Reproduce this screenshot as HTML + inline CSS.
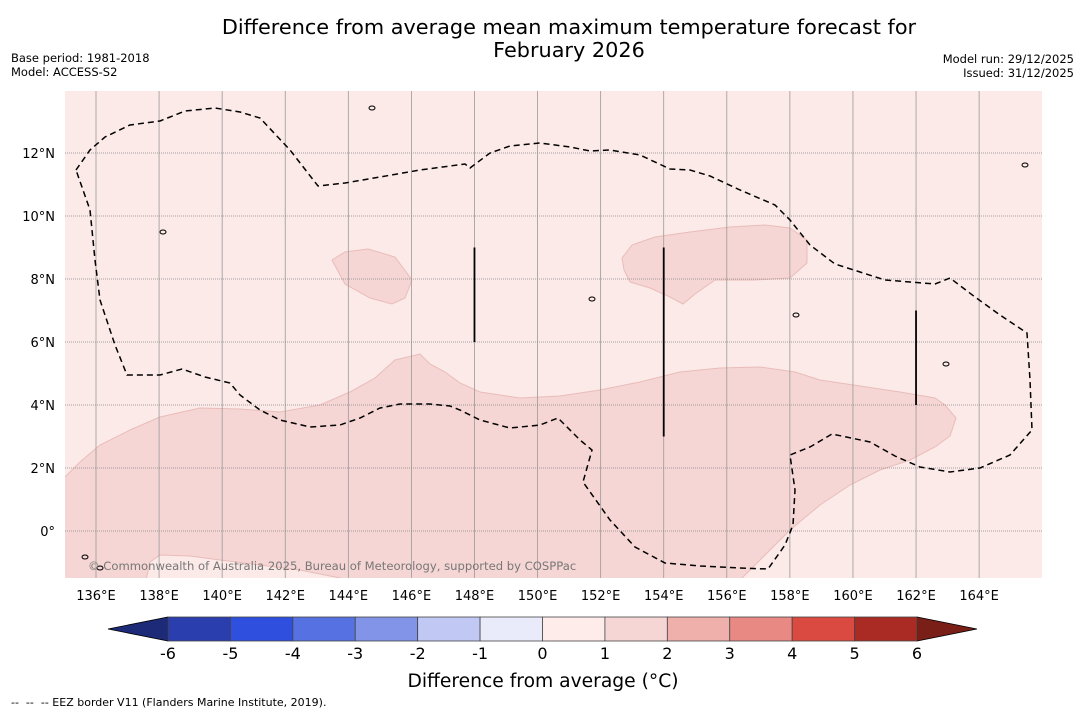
<!DOCTYPE html>
<html><head><meta charset="utf-8"><style>
body{margin:0;background:#fff;width:1085px;height:713px;overflow:hidden;font-family:"Liberation Sans","DejaVu Sans",sans-serif}
svg{display:block}
</style></head><body>
<svg id="s" width="1085" height="713" xmlns="http://www.w3.org/2000/svg" font-family="DejaVu Sans, Liberation Sans, sans-serif">
<text x="569" y="34" font-size="20.8" text-anchor="middle">Difference from average mean maximum temperature forecast for</text>
<text x="569" y="57" font-size="20.8" text-anchor="middle">February 2026</text>
<text x="11" y="62" font-size="11.5">Base period: 1981-2018</text>
<text x="11" y="76" font-size="11.5">Model: ACCESS-S2</text>
<text x="1074" y="63" font-size="11.5" text-anchor="end">Model run: 29/12/2025</text>
<text x="1074" y="77" font-size="11.5" text-anchor="end">Issued: 31/12/2025</text>
<defs><clipPath id="cp"><rect x="65" y="91" width="977" height="487"/></clipPath></defs>
<rect x="65" y="91" width="977" height="487" fill="#fbeae8"/>
<g id="map" clip-path="url(#cp)"></g>
<g id="grid"></g>
<g id="over" clip-path="url(#cp)"></g>
<g id="axes"></g>
<text x="88" y="570" font-size="11.6" fill="#777">© Commonwealth of Australia 2025, Bureau of Meteorology, supported by COSPPac</text>
<g id="cbar"></g>
<text x="543" y="687" font-size="18.7" text-anchor="middle">Difference from average (°C)</text>
<text x="11" y="706" font-size="11" xml:space="preserve">--  --  -- EEZ border V11 (Flanders Marine Institute, 2019).</text>
</svg>
<script>
const NS="http://www.w3.org/2000/svg";
const lonTicks=[136,138,140,142,144,146,148,150,152,154,156,158,160,162,164];
const latTicks=[0,2,4,6,8,10,12];
const cbTicks=[-6,-5,-4,-3,-2,-1,0,1,2,3,4,5,6];
const cbColors=["#2a3fad","#2f4fdf","#5672e2","#8294e8","#c1c8f3","#e9ebfa","#fdece9","#f5d6d4","#efb0ab","#e88a83","#db4a40","#aa2a24"];
const eezX=[76,90,105,130,160,185,215,240,260,290,318,345,380,420,465,470,490,510,540,570,590,610,640,670,690,710,740,775,790,810,835,860,885,910,935,950,975,1000,1027,1030,1032,1010,980,950,920,895,870,832,810,790,795,793,785,768,740,700,665,635,610,583,592,580,565,558,540,510,480,460,450,430,400,380,360,340,310,280,260,240,230,205,182,160,127,115,100,95,90,76];
const eezY=[170,150,137,125,121,111,108,112,118,150,186,183,177,170,164,168,153,146,143,147,151,150,155,169,170,176,190,205,220,245,264,272,280,282,284,278,297,315,333,380,430,455,468,472,467,456,442,434,447,455,490,525,545,569,568,566,563,547,520,482,450,440,425,418,425,428,420,410,406,404,404,408,418,425,427,420,410,395,383,377,369,375,375,345,300,260,210,170];
const southX=[60,80,100,130,160,200,240,280,320,350,375,395,420,430,445,460,480,520,560,600,640,680,720,760,795,820,860,900,935,945,956,950,935,910,880,850,820,790,770,755,740,60];
const southY=[482,462,445,430,417,408,409,412,405,392,378,360,354,364,372,383,392,398,396,390,382,372,368,367,372,380,386,392,398,405,418,436,447,460,470,485,505,530,550,565,580,580];
const lightX=[146,150,160,190,220,260,300,340,345,146];
const lightY=[580,562,555,556,560,565,570,578,580,580];
const b1X=[332,345,368,395,412,405,392,370,345];
const b1Y=[260,252,249,257,280,298,304,298,284];
const b2X=[622,632,655,690,730,765,790,807,807,790,755,715,695,683,668,650,630,624];
const b2Y=[258,245,237,232,227,225,228,240,263,278,280,280,294,304,296,288,282,270];
const barsLon=[148,154,162];
const barsTop=[9.0,9.0,7.0];
const barsBot=[6.0,3.0,4.0];
const xOf=lon=>96+(lon-136)*31.54;
const yOf=lat=>531-31.5*lat;
const lonOf=px=>136+(px-96)/31.54, latOf=py=>(531-py)/31.5;
function pts(X,Y){return X.map((x,i)=>xOf(lonOf(x)).toFixed(1)+","+yOf(latOf(Y[i])).toFixed(1)).join(" ");}
const map=document.getElementById('map');
const over=document.getElementById('over');
function add(parent,tag,attrs){const e=document.createElementNS(NS,tag);for(const k in attrs)e.setAttribute(k,attrs[k]);parent.appendChild(e);return e;}
let p=add(map,'polygon',{points:pts(southX,southY),fill:'#f5d6d4',stroke:'#e9bcb9','stroke-width':1});


p=add(map,'polygon',{points:pts(lightX,lightY),fill:'#fbeae8',stroke:'#e9bcb9','stroke-width':1});


p=add(map,'polygon',{points:pts(b1X,b1Y),fill:'#f5d6d4',stroke:'#e9bcb9','stroke-width':1});


p=add(map,'polygon',{points:pts(b2X,b2Y),fill:'#f5d6d4',stroke:'#e9bcb9','stroke-width':1});


const grid=document.getElementById('grid');
lonTicks.forEach(l=>{const e=add(grid,'line',{x1:xOf(l),x2:xOf(l),y1:91,y2:578,stroke:'#999','stroke-width':0.8});

});
latTicks.forEach(l=>{const e=add(grid,'line',{x1:65,x2:1042,y1:yOf(l),y2:yOf(l),stroke:'#888','stroke-width':0.8,'stroke-dasharray':'1,1'});

});
p=add(over,'polygon',{points:pts(eezX,eezY),fill:'none',stroke:'#000','stroke-width':1.5,'stroke-dasharray':'6,4'});


barsLon.forEach((l,i)=>{const e=add(over,'line',{x1:xOf(l),x2:xOf(l),y1:yOf(barsTop[i]),y2:yOf(barsBot[i]),stroke:'#000','stroke-width':1.8});

});
[[372,108],[163,232],[592,299],[796,315],[946,364],[1025,165],[85,557],[100,568]].forEach(([x,y],i)=>{const e=add(over,'ellipse',{cx:x,cy:y,rx:3,ry:2,fill:'none',stroke:'#000','stroke-width':1});

});
const axes=document.getElementById('axes');
lonTicks.forEach(l=>{const t=add(axes,'text',{x:xOf(l),y:600,'font-size':13,'text-anchor':'middle'});t.textContent=l+'°E';

});
latTicks.forEach(l=>{const t=add(axes,'text',{x:55,y:yOf(l)+5,'font-size':13,'text-anchor':'end'});t.textContent=l===0?'0°':l+'°N';

});
const cb=document.getElementById('cbar');
const cx0=168,cx1=917,cy0=617,cy1=641,cw=(cx1-cx0)/(cbTicks.length-1);
let tr=add(cb,'polygon',{points:`108,629 ${cx0},${cy0} ${cx0},${cy1}`,fill:'#1c2a78',stroke:'#000','stroke-width':0.8});


tr=add(cb,'polygon',{points:`977,629 ${cx1},${cy0} ${cx1},${cy1}`,fill:'#7a1e18',stroke:'#000','stroke-width':0.8});


cbColors.forEach((c,i)=>{const r=add(cb,'rect',{x:cx0+i*cw,y:cy0,width:cw,height:cy1-cy0,fill:c,stroke:'#444','stroke-width':0.8});

});
cbTicks.forEach((v,i)=>{const t=add(cb,'text',{x:cx0+i*cw,y:659,'font-size':16,'text-anchor':'middle'});t.textContent=v;

});
</script>
</body></html>
